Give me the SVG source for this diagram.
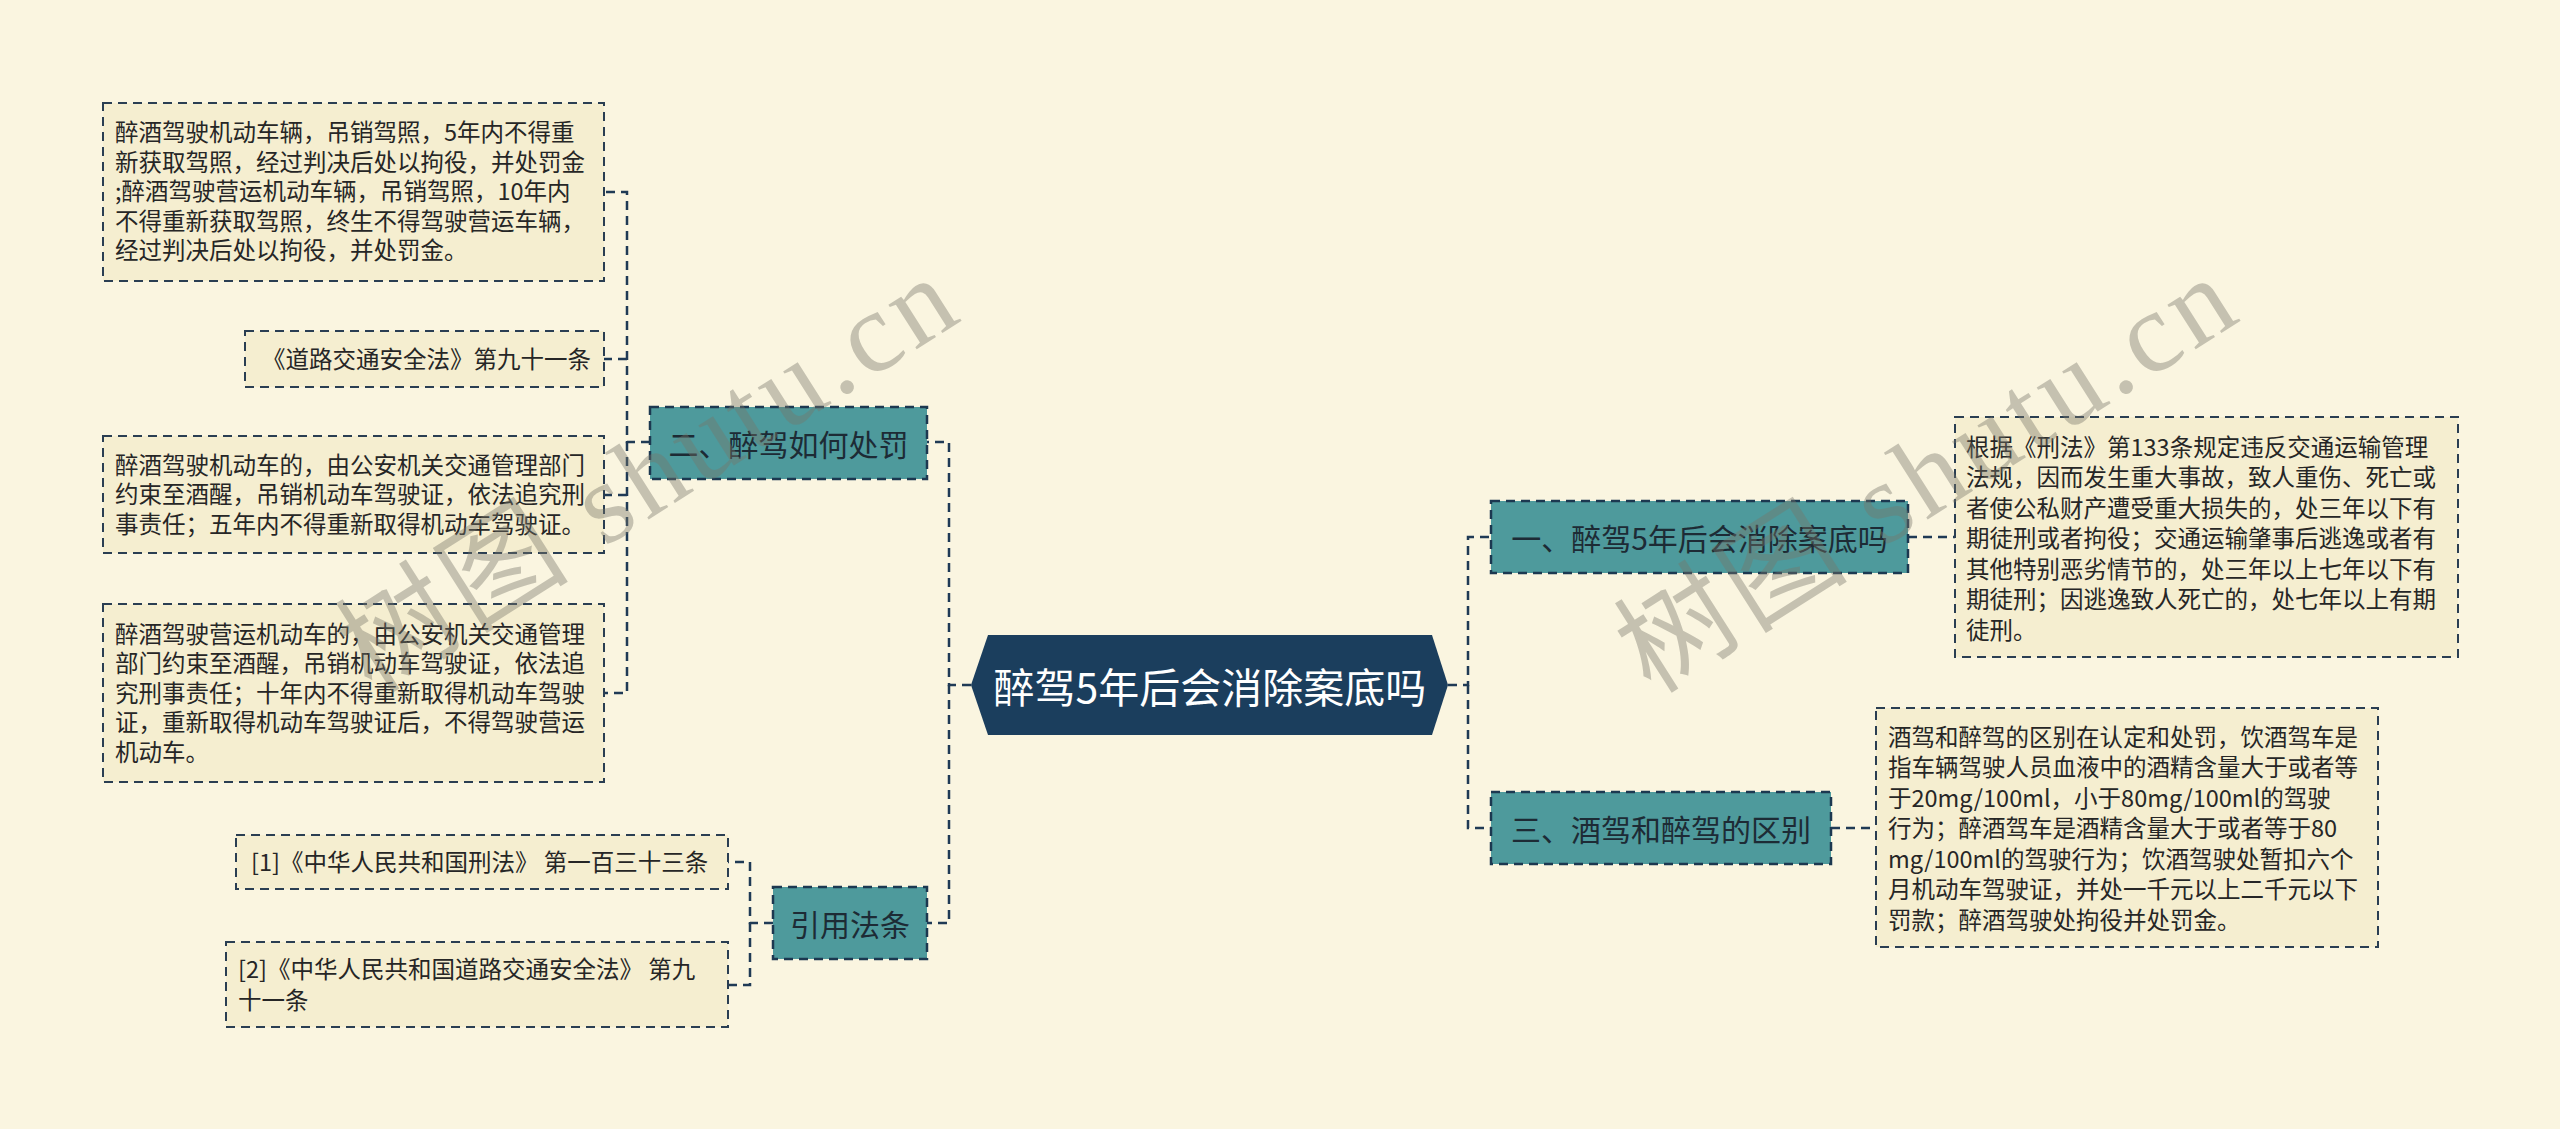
<svg xmlns="http://www.w3.org/2000/svg" width="2560" height="1129" viewBox="0 0 2560 1129">
<style>
.bg{fill:#faf5e0}
.box{fill:#f5eed0;stroke:#2a3e52;stroke-width:2;stroke-dasharray:9 6}
.node{fill:#4e9a9c;stroke:#1c3850;stroke-width:2.5;stroke-dasharray:9 6}
.root{fill:#1b3e5d}
.conn{fill:none;stroke:#1f3a55;stroke-width:2.5;stroke-dasharray:9 6}
.bt{font-family:"Noto Sans CJK SC","Noto Sans",sans-serif;font-size:23.5px;fill:#262626}
.nt{font-family:"Noto Sans CJK SC","Noto Sans",sans-serif;font-size:30px;fill:#1d2b35;text-anchor:middle;dominant-baseline:central}
.rt{font-family:"Noto Sans CJK SC","Noto Sans",sans-serif;font-size:41px;fill:#ffffff;text-anchor:middle;dominant-baseline:central}
.wm{font-family:"Liberation Serif","Noto Sans CJK SC",serif;font-size:115px;fill:#78766a;opacity:0.4}
</style>
<rect class="bg" x="0" y="0" width="2560" height="1129"/>

<g id="connectors">
<path class="conn" d="M971 685 H949 V442 H927"/>
<path class="conn" d="M949 685 V923 H927"/>
<path class="conn" d="M1448 685 H1468 V537 H1491"/>
<path class="conn" d="M1468 685 V828 H1491"/>
<path class="conn" d="M650 442 H627 V192 H604"/>
<path class="conn" d="M627 442 V693 H604"/>
<path class="conn" d="M627 359 H604"/>
<path class="conn" d="M627 495 H604"/>
<path class="conn" d="M773 923 H750 V862 H728"/>
<path class="conn" d="M750 923 V985 H728"/>
<path class="conn" d="M1908 537 H1955"/>
<path class="conn" d="M1831 828 H1876"/>
</g>

<g id="root">
<polygon class="root" points="971,685 988,635 1432,635 1448,685 1432,735 988,735"/>
<text class="rt" x="1210" y="685">醉驾5年后会消除案底吗</text>
</g>

<g id="node-2">
<rect class="node" x="650" y="407" width="277" height="72"/>
<text class="nt" x="788.5" y="443">二、醉驾如何处罚</text>
</g>

<g id="node-cite">
<rect class="node" x="773" y="887" width="154" height="72"/>
<text class="nt" x="850" y="923">引用法条</text>
</g>

<g id="node-1">
<rect class="node" x="1491" y="501" width="417" height="72"/>
<text class="nt" x="1699.5" y="537">一、醉驾5年后会消除案底吗</text>
</g>

<g id="node-3">
<rect class="node" x="1491" y="792" width="340" height="72"/>
<text class="nt" x="1661" y="828">三、酒驾和醉驾的区别</text>
</g>

<g id="box-a">
<rect class="box" x="103" y="103" width="501" height="178"/>
<text class="bt" x="115" y="141">醉酒驾驶机动车辆，吊销驾照，5年内不得重</text>
<text class="bt" x="115" y="171">新获取驾照，经过判决后处以拘役，并处罚金</text>
<text class="bt" x="115" y="200">;醉酒驾驶营运机动车辆，吊销驾照，10年内</text>
<text class="bt" x="115" y="230">不得重新获取驾照，终生不得驾驶营运车辆，</text>
<text class="bt" x="115" y="259">经过判决后处以拘役，并处罚金。</text>
</g>

<g id="box-b">
<rect class="box" x="245" y="331" width="359" height="56"/>
<text class="bt" x="262" y="368">《道路交通安全法》第九十一条</text>
</g>

<g id="box-c">
<rect class="box" x="103" y="436" width="501" height="117"/>
<text class="bt" x="115" y="474">醉酒驾驶机动车的，由公安机关交通管理部门</text>
<text class="bt" x="115" y="503">约束至酒醒，吊销机动车驾驶证，依法追究刑</text>
<text class="bt" x="115" y="533">事责任；五年内不得重新取得机动车驾驶证。</text>
</g>

<g id="box-d">
<rect class="box" x="103" y="604" width="501" height="178"/>
<text class="bt" x="115" y="643">醉酒驾驶营运机动车的，由公安机关交通管理</text>
<text class="bt" x="115" y="672">部门约束至酒醒，吊销机动车驾驶证，依法追</text>
<text class="bt" x="115" y="702">究刑事责任；十年内不得重新取得机动车驾驶</text>
<text class="bt" x="115" y="731">证，重新取得机动车驾驶证后，不得驾驶营运</text>
<text class="bt" x="115" y="761">机动车。</text>
</g>

<g id="box-cite1">
<rect class="box" x="236" y="835" width="492" height="54"/>
<text class="bt" x="251" y="871">[1]《中华人民共和国刑法》 第一百三十三条</text>
</g>

<g id="box-cite2">
<rect class="box" x="226" y="942" width="502" height="85"/>
<text class="bt" x="238" y="978">[2]《中华人民共和国道路交通安全法》 第九</text>
<text class="bt" x="238" y="1009">十一条</text>
</g>

<g id="box-r1">
<rect class="box" x="1955" y="417" width="503" height="240"/>
<text class="bt" x="1966" y="456">根据《刑法》第133条规定违反交通运输管理</text>
<text class="bt" x="1966" y="486">法规，因而发生重大事故，致人重伤、死亡或</text>
<text class="bt" x="1966" y="517">者使公私财产遭受重大损失的，处三年以下有</text>
<text class="bt" x="1966" y="547">期徒刑或者拘役；交通运输肇事后逃逸或者有</text>
<text class="bt" x="1966" y="578">其他特别恶劣情节的，处三年以上七年以下有</text>
<text class="bt" x="1966" y="608">期徒刑；因逃逸致人死亡的，处七年以上有期</text>
<text class="bt" x="1966" y="639">徒刑。</text>
</g>

<g id="box-r2">
<rect class="box" x="1876" y="708" width="502" height="239"/>
<text class="bt" x="1888" y="746">酒驾和醉驾的区别在认定和处罚，饮酒驾车是</text>
<text class="bt" x="1888" y="776">指车辆驾驶人员血液中的酒精含量大于或者等</text>
<text class="bt" x="1888" y="807">于20mg/100ml，小于80mg/100ml的驾驶</text>
<text class="bt" x="1888" y="837">行为；醉酒驾车是酒精含量大于或者等于80</text>
<text class="bt" x="1888" y="868">mg/100ml的驾驶行为；饮酒驾驶处暂扣六个</text>
<text class="bt" x="1888" y="898">月机动车驾驶证，并处一千元以上二千元以下</text>
<text class="bt" x="1888" y="929">罚款；醉酒驾驶处拘役并处罚金。</text>
</g>

<g id="watermarks">
<text class="wm" x="0" y="0" transform="translate(372,695) rotate(-32.4)" textLength="700" lengthAdjust="spacing">树图 shutu.cn</text>
<text class="wm" x="0" y="0" transform="translate(1651,695) rotate(-32.4)" textLength="700" lengthAdjust="spacing">树图 shutu.cn</text>
</g>
</svg>
